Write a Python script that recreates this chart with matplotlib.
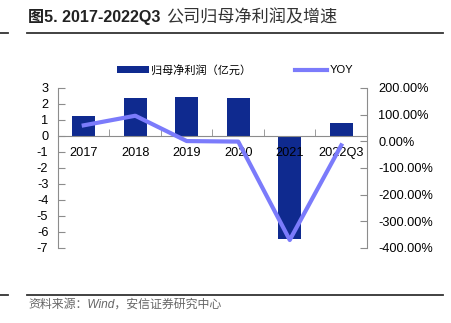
import matplotlib.pyplot as plt
from matplotlib.patches import Patch
from matplotlib.lines import Line2D
from matplotlib.ticker import FuncFormatter, FixedLocator

plt.rcParams['font.family'] = ['Liberation Sans', 'Noto Sans CJK SC', 'DejaVu Sans']

# data
categories = ["2017", "2018", "2019", "2020", "2021", "2022Q3"]
profit = [1.28, 2.38, 2.42, 2.38, -6.44, 0.83]          # 亿元
yoy = [0.60, 0.96, 0.01, -0.01, -3.70, -0.15]          # fraction
left_ticks = [3, 2, 1, 0, -1, -2, -3, -4, -5, -6, -7]
right_ticks = [2, 1, 0, -1, -2, -3, -4]

bar_color = "#0f2a8f"
line_color = "#7b7bfb"
spine_color = "#8c8c8c"

fig = plt.figure(figsize=(4.52, 3.23), dpi=100)
ax = fig.add_axes([58 / 452, 1 - 248 / 323, 309 / 452, 160 / 323])
x = list(range(len(categories)))

ax.bar(x, profit, width=0.45, color=bar_color, zorder=2)
ax.set_axisbelow(False)  # category labels drawn over the bars
ax.set_xlim(-0.5, len(categories) - 0.5)
ax.set_ylim(-7, 3)
ax.set_yticks(left_ticks)
ax.set_yticklabels([str(t) for t in left_ticks])

for s in ["top", "right"]:
    ax.spines[s].set_visible(False)
ax.spines["bottom"].set_position(("data", 0))
ax.spines["bottom"].set_color(spine_color)
ax.spines["left"].set_color(spine_color)
ax.set_xticks(x)
ax.set_xticklabels(categories)
ax.xaxis.set_minor_locator(FixedLocator([i + 0.5 for i in x[:-1]]))
ax.tick_params(axis="x", which="major", length=0, pad=8, labelsize=9.2)
ax.tick_params(axis="x", which="minor", length=5, direction="in", color=spine_color)
ax.tick_params(axis="y", length=5, direction="in", color=spine_color, pad=7, labelsize=9.2)

ax2 = ax.twinx()
ax2.plot(x, yoy, color=line_color, lw=3, zorder=3)
ax2.set_ylim(-4, 2)
ax2.set_yticks(right_ticks)
ax2.yaxis.set_major_formatter(FuncFormatter(lambda v, p: f"{v * 100:.2f}%"))
for s in ["top", "left", "bottom"]:
    ax2.spines[s].set_visible(False)
ax2.spines["right"].set_color(spine_color)
ax2.tick_params(axis="y", length=5, direction="in", color=spine_color, pad=8, labelsize=9.2)

handles = [Patch(facecolor=bar_color, edgecolor="none"),
           Line2D([], [], color=line_color, lw=3)]
fig.legend(handles, ["归母净利润（亿元）", "YOY"], loc="center",
           bbox_to_anchor=(0.52, 1 - 70 / 323), ncol=2, frameon=False,
           fontsize=8, handlelength=2.9, handleheight=0.7, handletextpad=0.2,
           columnspacing=3.9)

# title and rules
fig.text(28 / 452, 1 - 17 / 323, "图5. 2017-2022Q3", fontsize=11.6, fontweight="bold",
         color="#222222", va="center")
fig.text(166 / 452, 1 - 17 / 323, "公司归母净利润及增速", fontsize=12.3,
         color="#333333", va="center")
for yy in (1 - 32.5 / 323, 1 - 295 / 323):
    fig.add_artist(Line2D([27 / 452, 443 / 452], [yy, yy], color="#333333", lw=1.3))
    fig.add_artist(Line2D([0, 8 / 452], [yy, yy], color="#333333", lw=1.3))
fig.text(28 / 452, 1 - 305 / 323, "资料来源：Wind，安信证券研究中心", fontsize=8.6,
         color="#666666", style="italic", va="center")

fig.savefig("out.png", dpi=100)
